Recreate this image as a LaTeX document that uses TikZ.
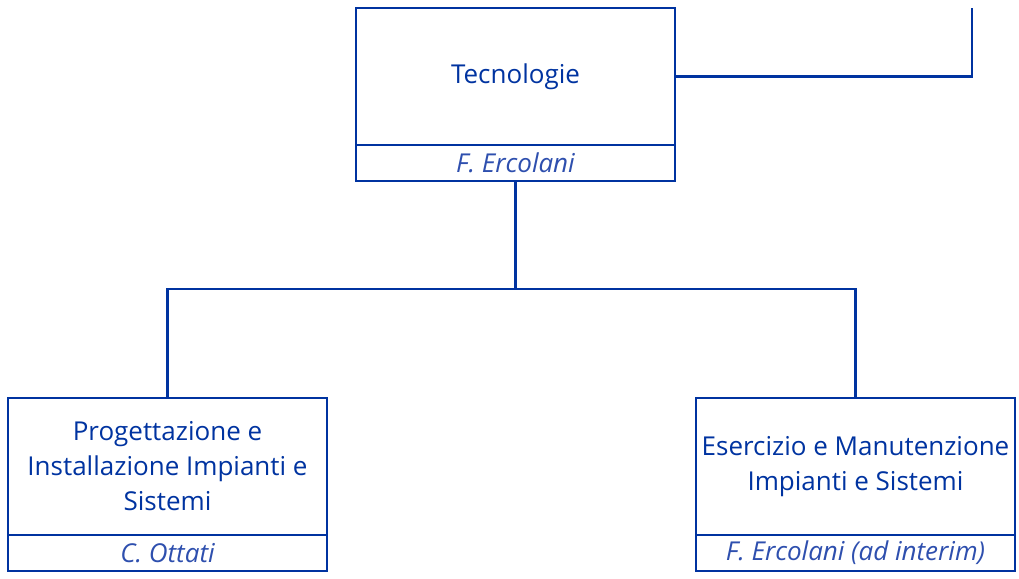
\documentclass[tikz,border=0pt]{standalone}
\usepackage{fontspec}
\setmainfont{Open Sans}
\definecolor{dblue}{HTML}{0033A0}
\definecolor{nblue}{HTML}{2E4FAE}
\begin{document}
\begin{tikzpicture}[x=1pt,y=-1pt,
  mainbox/.style={draw=dblue, line width=2.4pt, rectangle, outer sep=0pt, inner sep=0pt,
    minimum width=319pt, minimum height=137pt, align=center, text=dblue,
    font=\fontsize{26}{35}\selectfont},
  namebox/.style={draw=dblue, line width=2.4pt, rectangle, outer sep=0pt, inner sep=0pt,
    minimum width=319pt, minimum height=36pt, text=nblue,
    font=\fontsize{26}{30}\selectfont\itshape},
  link/.style={draw=dblue, line width=2.4pt}]
\useasboundingbox (0,0) rectangle (1019,578);
\node[mainbox, anchor=north west] (tec) at (356,8) {Tecnologie};
\node[namebox, anchor=north] (tecn) at (tec.south) {F. Ercolani};
\node[mainbox, anchor=north west] (prog) at (8,398) {Progettazione e\\Installazione Impianti e\\Sistemi};
\node[namebox, anchor=north] (progn) at (prog.south) {C. Ottati};
\node[mainbox, anchor=north west] (eser) at (696,398) {Esercizio e Manutenzione\\Impianti e Sistemi};
\node[namebox, anchor=north] (esern) at (eser.south) {F. Ercolani (ad interim)};
\coordinate (j) at (515.5,289);
\coordinate (tr) at (972,8);
\draw[link] (tecn.south) -- (j);
\draw[link] (prog.north) |- (j) -| (eser.north);
\draw[link] (tec.east) -| (tr);
\end{tikzpicture}
\end{document}
